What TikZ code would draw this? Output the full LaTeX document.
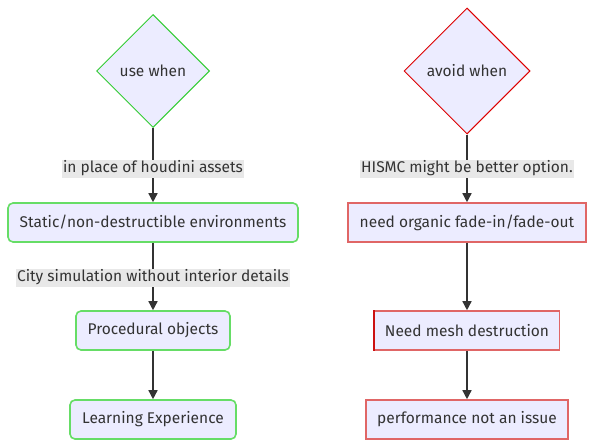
\documentclass[tikz,border=0pt]{standalone}
\usepackage{fontspec}
\setmainfont{Fira Sans}
\usetikzlibrary{shapes.geometric,arrows.meta}
\definecolor{nodefill}{HTML}{ECECFF}
\definecolor{txt}{HTML}{333333}
\definecolor{greenD}{HTML}{33CC33}
\definecolor{greenB}{HTML}{66DD66}
\definecolor{redD}{HTML}{DD0000}
\definecolor{redB}{HTML}{E06666}
\definecolor{redM}{HTML}{CC1111}
\definecolor{lblbg}{HTML}{E8E8E8}
\definecolor{edge}{HTML}{333333}
\tikzset{
  every node/.style={font=\fontsize{15.5}{18}\selectfont, text=txt},
  dia/.style={diamond, aspect=1, fill=nodefill, line width=1pt, inner sep=0pt},
  gbox/.style={rectangle, rounded corners=5pt, fill=nodefill, draw=greenB, line width=1.6pt, minimum height=39pt, inner sep=0pt},
  rbox/.style={rectangle, fill=nodefill, draw=redB, line width=1.6pt, minimum height=39pt, inner sep=0pt},
  lbl/.style={fill=lblbg, inner sep=1pt, minimum height=18pt},
  conn/.style={draw=edge, line width=1.5pt, -{Triangle[length=9pt,width=9pt]}},
}
\begin{document}
\begin{tikzpicture}[x=1pt,y=-1pt]
\useasboundingbox (0,0) rectangle (594,447);
\fill[white] (0,0) rectangle (594,447);
% left column
\node[dia, draw=greenD, minimum width=113pt, minimum height=113pt] (use) at (153,71) {use when};
\node[gbox, minimum width=290pt] (static) at (153,222.5) {Static/non-destructible environments};
\node[gbox, minimum width=154pt] (proc) at (153,330.5) {Procedural objects};
\node[gbox, minimum width=166pt] (learn) at (153,419.5) {Learning Experience};
% right column
\node[dia, draw=redD, minimum width=126pt, minimum height=126pt] (avoid) at (467,71) {avoid when};
\node[rbox, minimum width=238pt] (fade) at (467,222.5) {need organic fade-in/fade-out};
\node[rbox, minimum width=185pt] (mesh) at (467,330.5) {Need mesh destruction};
\draw[redM, line width=1.6pt] (mesh.north west) -- (mesh.south west);
\node[rbox, minimum width=202pt] (perf) at (467,419.5) {performance not an issue};
% connectors
\draw[conn] (use) -- (static);
\node[lbl] (l1) at (153,168.5) {in place of houdini assets};
\draw[conn] (static) -- (proc);
\node[lbl] (l2) at (153,277.5) {City simulation without interior details};
\draw[conn] (proc) -- (learn);
\draw[conn] (avoid) -- (fade);
\node[lbl] (l3) at (467,168.5) {HISMC might be better option.};
\draw[conn] (fade) -- (mesh);
\draw[conn] (mesh) -- (perf);
\end{tikzpicture}
\end{document}
